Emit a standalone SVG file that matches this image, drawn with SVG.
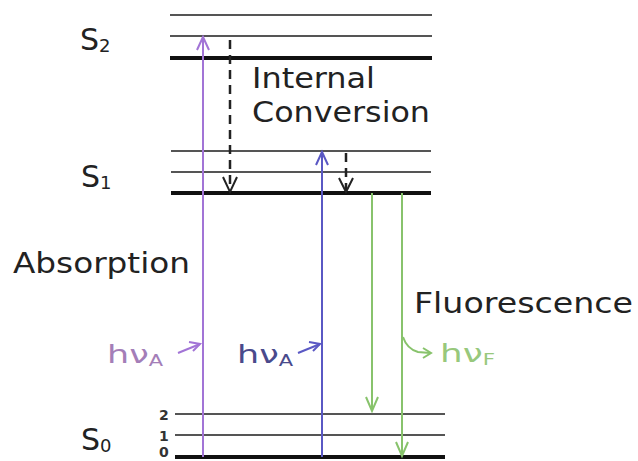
<svg xmlns="http://www.w3.org/2000/svg" width="638" height="461" viewBox="0 0 638 461">
<style>
.thin{stroke:#555;stroke-width:2;fill:none}
.thick{stroke:#111;stroke-width:4;fill:none}
.lbl{font-family:"DejaVu Sans","Liberation Sans",sans-serif;fill:#222}
.big{font-size:28px}
.st{font-size:30px}
.sub{font-size:18px}
.num{font-family:"DejaVu Sans",sans-serif;font-size:14px;font-weight:bold;fill:#333}
.hv{font-family:"DejaVu Sans",sans-serif;font-size:25px}
.pur{stroke:#a274d6;stroke-width:2;fill:none}
.blu{stroke:#5a58c4;stroke-width:2;fill:none}
.grn{stroke:#88c36c;stroke-width:2;fill:none}
.dsh{stroke:#222;stroke-width:2.5;fill:none;stroke-dasharray:9 6}
.hd{stroke-width:2;fill:none;stroke-linejoin:miter}
</style>
<rect width="638" height="461" fill="#fff"/>
<g id="S2">
<line class="thin" x1="170" y1="15" x2="432" y2="15"/>
<line class="thin" x1="170" y1="36" x2="432" y2="36"/>
<line class="thick" x1="170" y1="58" x2="432" y2="58"/>
<text class="lbl st" x="80" y="50">S<tspan class="sub" dy="2">2</tspan></text>
</g>
<g id="S1">
<line class="thin" x1="171" y1="151" x2="431" y2="151"/>
<line class="thin" x1="171" y1="172" x2="431" y2="172"/>
<line class="thick" x1="171" y1="193" x2="431" y2="193"/>
<text class="lbl st" x="81" y="187">S<tspan class="sub" dy="2">1</tspan></text>
</g>
<g id="S0">
<line class="thin" x1="175" y1="414" x2="445" y2="414"/>
<line class="thin" x1="175" y1="435" x2="445" y2="435"/>
<line class="thick" x1="175" y1="457" x2="445" y2="457"/>
<text class="lbl st" x="81" y="450">S<tspan class="sub" dy="2">0</tspan></text>
<text class="num" x="159" y="420">2</text>
<text class="num" x="159" y="441">1</text>
<text class="num" x="159" y="457" font-size="12">0</text>
</g>
<g id="labels">
<text class="lbl big" x="252" y="88" textLength="123" lengthAdjust="spacingAndGlyphs">Internal</text>
<text class="lbl big" x="252" y="122" textLength="178" lengthAdjust="spacingAndGlyphs">Conversion</text>
<text class="lbl big" x="13" y="273" textLength="177" lengthAdjust="spacingAndGlyphs">Absorption</text>
<text class="lbl big" x="414" y="313" textLength="219" lengthAdjust="spacingAndGlyphs">Fluorescence</text>
<text class="hv" x="107" y="363" fill="#a47eb8" textLength="56" lengthAdjust="spacingAndGlyphs">hν<tspan font-size="15" dy="3">A</tspan></text>
<text class="hv" x="237" y="363" fill="#4a4a8c" textLength="56" lengthAdjust="spacingAndGlyphs">hν<tspan font-size="15" dy="3">A</tspan></text>
<text class="hv" x="440" y="362" fill="#98c87c" textLength="55" lengthAdjust="spacingAndGlyphs">hν<tspan font-size="15" dy="3">F</tspan></text>
</g>
<g id="connectors">
<line class="pur" x1="203" y1="457" x2="203" y2="38"/>
<path class="hd" stroke="#a274d6" d="M197,50 L203,37 L209,50"/>
<line class="dsh" x1="230" y1="40" x2="230" y2="190"/>
<path class="hd" stroke="#222" d="M223,177 L230,192 L237,177"/>
<line class="blu" x1="322" y1="457" x2="322" y2="153"/>
<path class="hd" stroke="#5a58c4" d="M316,165 L322,152 L328,165"/>
<line class="dsh" x1="346" y1="153" x2="346" y2="190" stroke-dasharray="6 5"/>
<path class="hd" stroke="#222" d="M339,178 L346,192 L353,178"/>
<line class="grn" x1="372" y1="193" x2="372" y2="410"/>
<path class="hd" stroke="#88c36c" d="M366,397 L372,411 L378,397"/>
<line class="grn" x1="402" y1="193" x2="402" y2="455"/>
<path class="hd" stroke="#88c36c" d="M396,442 L402,456 L408,442"/>
<path class="pur" d="M178,353 L200,344"/>
<path class="hd" stroke="#a274d6" d="M189,342 L200,344 L193,351"/>
<path class="blu" d="M298,353 L320,344"/>
<path class="hd" stroke="#5a58c4" d="M309,342 L320,344 L313,351"/>
<path class="grn" d="M403,337 Q407,349 418,352 L430,353"/>
<path class="hd" stroke="#88c36c" d="M423,348 L431,353 L423,358"/>
</g>
</svg>
